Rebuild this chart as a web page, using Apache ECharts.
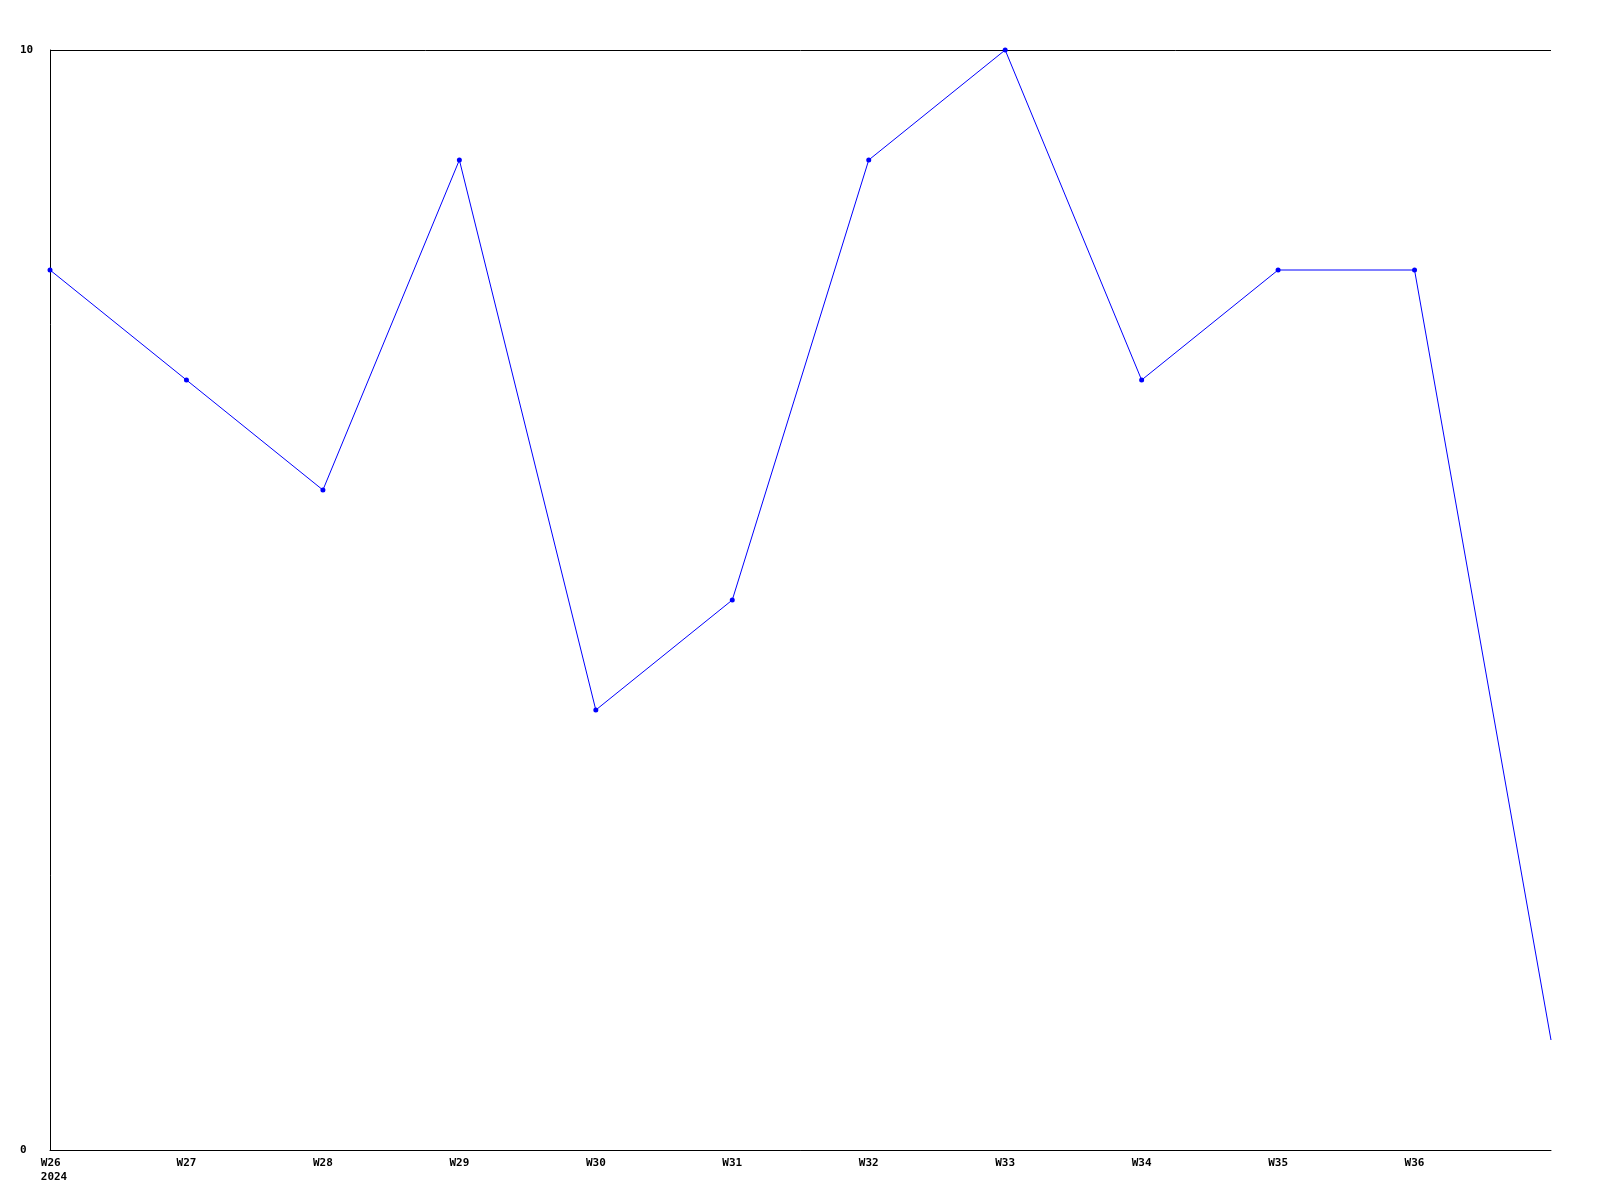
<!DOCTYPE html>
<html>
<head>
<meta charset="utf-8">
<script src="https://cdn.jsdelivr.net/npm/echarts@6/dist/echarts.min.js"></script>
<style>
html,body{margin:0;padding:0;background:#fff;}
#chart{width:1600px;height:1200px;}
</style>
</head>
<body>
<div id="chart"></div>
<script>
const categories = ["W26","W27","W28","W29","W30","W31","W32","W33","W34","W35","W36","W37"];
const tickLabels = ["W26","W27","W28","W29","W30","W31","W32","W33","W34","W35","W36",""];
const yearLabel = "2024";
const values = [8, 7, 6, 9, 4, 5, 9, 10, 7, 8, 8, 1];
const yTicks = [0, 10];

const chart = echarts.init(document.getElementById('chart'), null, {renderer:'canvas'});
const font = {fontFamily:'DejaVu Sans Mono', fontWeight:'bold', fontSize:11, color:'#000'};
const tok = Object.assign({align:'left', padding:[0,0,0,8], lineHeight:14}, font);
chart.setOption({
  animation:false,
  backgroundColor:'#fff',
  grid:{left:50,right:49,top:50,bottom:50,containLabel:false},
  xAxis:{
    type:'category',
    data:categories,
    boundaryGap:false,
    axisLine:{show:true,lineStyle:{color:'#000',width:1}},
    axisTick:{show:false},
    splitLine:{show:false},
    axisLabel:Object.assign({
      interval:0,
      margin:6,
      lineHeight:14,
      formatter:(v,i)=> i===0 ? '{a|'+tickLabels[i]+'}\n{a|'+yearLabel+'}' : tickLabels[i],
      rich:{a:tok}
    },font)
  },
  yAxis:{
    type:'value',
    min:yTicks[0],
    max:yTicks[yTicks.length-1],
    interval:10,
    axisLine:{show:true,lineStyle:{color:'#000',width:1}},
    axisTick:{show:false},
    splitLine:{show:true,lineStyle:{color:'#000',width:1}},
    axisLabel:Object.assign({margin:30,align:'left'},font)
  },
  series:[{
    type:'line',
    data:values.map((v,i)=>({value:v, symbolSize: i===values.length-1?0:5})),
    symbol:'circle',
    showAllSymbol:true,
    itemStyle:{color:'#0000ff'},
    lineStyle:{color:'#0000ff',width:1},
    clip:false
  }]
});
</script>
</body>
</html>
